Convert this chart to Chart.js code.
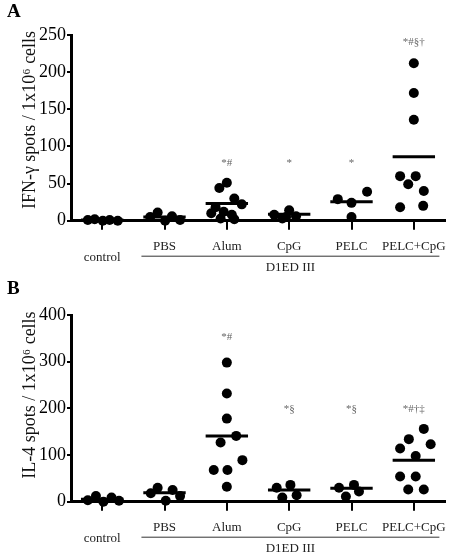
<!DOCTYPE html>
<html><head><meta charset="utf-8">
<script src="https://cdn.jsdelivr.net/npm/chart.js@4/dist/chart.umd.min.js"></script>
<style>html,body{margin:0;padding:0;background:#fff;}canvas{display:block;}</style>
</head><body>
<canvas id="chartA" width="450" height="278"></canvas>
<canvas id="chartB" width="450" height="278"></canvas>
<script>
// ---------- DATA ----------
const categories = ['control', 'PBS', 'Alum', 'CpG', 'PELC', 'PELC+CpG'];
const groupLabel = 'D1ED III';

// Panel A: IFN-γ spots / 1x10^6 cells
const ifnControl = [1, 2, 0, 1, 0];
const ifnPBS = [5, 11, 0, 6, 1];
const ifnAlum = [44, 51, 30, 22, 18, 10, 12, 8, 3, 2];
const ifnCpG = [8, 14, 3, 6, 5];
const ifnPELC = [29, 24, 39, 5];
const ifnPELCCpG = [212, 172, 136, 60, 60, 49, 40, 18, 20];
const ifnMeans = [1, 5, 23, 8.6, 25.6, 86];
const ifnTicks = [0, 50, 100, 150, 200, 250];
const ifnSignif = ['', '', '*#', '*', '*', '*#§†'];
const ifnSignifLevel = [0, 0, 78, 78, 78, 240];

// horizontal scatter of the dots within each group (category units)
const ifnControlSpread = [-0.23, -0.12, 0.01, 0.12, 0.25];
const ifnPBSSpread = [-0.23, -0.11, 0.01, 0.12, 0.25];
const ifnAlumSpread = [-0.12, 0.0, 0.12, 0.24, -0.18, -0.25, -0.05, 0.08, -0.1, 0.12];
const ifnCpGSpread = [-0.24, 0.0, -0.11, 0.11, -0.05];
const ifnPELCSpread = [-0.22, 0.0, 0.25, 0.0];
const ifnPELCCpGSpread = [0, 0, 0, -0.22, 0.03, -0.09, 0.16, -0.22, 0.15];

// Panel B: IL-4 spots / 1x10^6 cells
const il4Control = [3, 12, 0, 9, 2];
const il4PBS = [18, 30, 2, 25, 12];
const il4Alum = [298, 232, 178, 141, 127, 89, 68, 68, 32];
const il4CpG = [30, 36, 9, 14];
const il4PELC = [30, 36, 11, 22];
const il4PELCCpG = [114, 134, 123, 156, 98, 54, 54, 26, 26];
const il4Means = [5, 19, 141, 25, 28.6, 89];
const il4Ticks = [0, 100, 200, 300, 400];
const il4Signif = ['', '', '*#', '*§', '*§', '*#†‡'];
const il4SignifLevel = [0, 0, 353, 198, 198, 198];

const il4ControlSpread = [-0.23, -0.1, 0.02, 0.15, 0.27];
const il4PBSSpread = [-0.22, -0.11, 0.02, 0.13, 0.25];
const il4AlumSpread = [0, 0, 0, 0.15, -0.1, 0.25, -0.21, 0.01, 0];
const il4CpGSpread = [-0.2, 0.02, -0.11, 0.12];
const il4PELCSpread = [-0.2, 0.04, -0.09, 0.12];
const il4PELCCpGSpread = [-0.22, -0.08, 0.27, 0.16, 0.03, -0.22, 0.03, -0.09, 0.16];

// ---------- DRAWING ----------
const SERIF = "'Liberation Serif', 'Times New Roman', serif";

function buildDatasets(groups, spreads, means) {
  const ds = [];
  groups.forEach((vals, gi) => {
    ds.push({
      type: 'scatter',
      data: vals.map((v, i) => ({ x: gi + spreads[gi][i], y: v })),
      pointRadius: 5, pointHoverRadius: 5,
      backgroundColor: '#000', borderWidth: 0, clip: false
    });
  });
  means.forEach((m, gi) => {
    ds.push({
      type: 'line',
      data: [{ x: gi - 0.34, y: m }, { x: gi + 0.34, y: m }],
      borderColor: '#000', borderWidth: 3, pointRadius: 0, clip: false
    });
  });
  return ds;
}

const decorPlugin = {
  id: 'decor',
  afterDraw(chart, args, o) {
    const ctx = chart.ctx, xs = chart.scales.x, ys = chart.scales.y, ca = chart.chartArea;
    ctx.save();
    // panel letter
    ctx.fillStyle = '#000';
    ctx.font = 'bold 19px ' + SERIF;
    ctx.textAlign = 'left'; ctx.textBaseline = 'middle';
    ctx.fillText(o.letter, 7, o.letterY);
    // y title
    ctx.save();
    ctx.translate(30, o.titleY);
    ctx.rotate(-Math.PI / 2);
    ctx.textAlign = 'center'; ctx.textBaseline = 'middle';
    ctx.font = o.titleSize + 'px ' + SERIF;
    ctx.fillStyle = '#111';
    ctx.fillText(o.title, 0, 0);
    ctx.restore();
    // category labels
    ctx.font = '13px ' + SERIF;
    ctx.fillStyle = '#222';
    ctx.textAlign = 'center'; ctx.textBaseline = 'middle';
    categories.forEach((c, i) => {
      const x = xs.getPixelForValue(i);
      ctx.fillText(c, x, ca.bottom + (i === 0 ? 37 : 25.5));
    });
    // group line + label
    const x1 = xs.getPixelForValue(1 - 0.37), x2 = xs.getPixelForValue(5 + 0.41);
    ctx.strokeStyle = '#333'; ctx.lineWidth = 1;
    ctx.beginPath(); ctx.moveTo(x1, ca.bottom + 35.5); ctx.lineTo(x2, ca.bottom + 35.5); ctx.stroke();
    ctx.fillText(groupLabel, (x1 + x2) / 2, ca.bottom + 46.5);
    // significance marks
    ctx.font = '11px ' + SERIF;
    ctx.fillStyle = '#666';
    o.signif.forEach((s, i) => {
      if (!s) return;
      ctx.fillText(s, xs.getPixelForValue(i), ys.getPixelForValue(o.signifLevel[i]));
    });
    ctx.restore();
  }
};

function makeChart(id, groups, spreads, means, yTicks, cfg) {
  return new Chart(document.getElementById(id), {
    data: { datasets: buildDatasets(groups, spreads, means) },
    options: {
      responsive: false, animation: false, devicePixelRatio: 1,
      layout: { padding: { top: cfg.top, right: 5, bottom: cfg.bottom, left: 0 } },
      plugins: { legend: { display: false }, tooltip: { enabled: false }, decor: cfg.decor },
      scales: {
        x: {
          type: 'linear', min: -0.5, max: 5.5,
          afterBuildTicks: s => { s.ticks = categories.map((c, i) => ({ value: i })); },
          afterFit: s => { s.height = 10; },
          ticks: { display: false },
          grid: { display: true, drawOnChartArea: false, drawTicks: true, tickLength: 9, color: '#000', lineWidth: 2 },
          border: { display: true, color: '#000', width: 3 }
        },
        y: {
          type: 'linear', min: yTicks[0], max: yTicks[yTicks.length - 1],
          afterBuildTicks: s => { s.ticks = yTicks.map(v => ({ value: v })); },
          afterFit: s => { s.width = 71; },
          ticks: { color: '#000', padding: 1, font: { family: SERIF, size: 18 } },
          grid: { display: true, drawOnChartArea: false, drawTicks: true, tickLength: 4, color: '#000', lineWidth: 2 },
          border: { display: true, color: '#000', width: 3 }
        }
      }
    },
    plugins: [decorPlugin]
  });
}

makeChart('chartA',
  [ifnControl, ifnPBS, ifnAlum, ifnCpG, ifnPELC, ifnPELCCpG],
  [ifnControlSpread, ifnPBSSpread, ifnAlumSpread, ifnCpGSpread, ifnPELCSpread, ifnPELCCpGSpread],
  ifnMeans, ifnTicks,
  { top: 35, bottom: 47.3,
    decor: { letter: 'A', letterY: 12, title: 'IFN-γ spots / 1x10⁶ cells', titleY: 120, titleSize: 18,
             signif: ifnSignif, signifLevel: ifnSignifLevel } });

makeChart('chartB',
  [il4Control, il4PBS, il4Alum, il4CpG, il4PELC, il4PELCCpG],
  [il4ControlSpread, il4PBSSpread, il4AlumSpread, il4CpGSpread, il4PELCSpread, il4PELCCpGSpread],
  il4Means, il4Ticks,
  { top: 37, bottom: 44.3,
    decor: { letter: 'B', letterY: 11, title: 'IL-4 spots / 1x10⁶ cells', titleY: 117, titleSize: 18,
             signif: il4Signif, signifLevel: il4SignifLevel } });
</script>
</body></html>
